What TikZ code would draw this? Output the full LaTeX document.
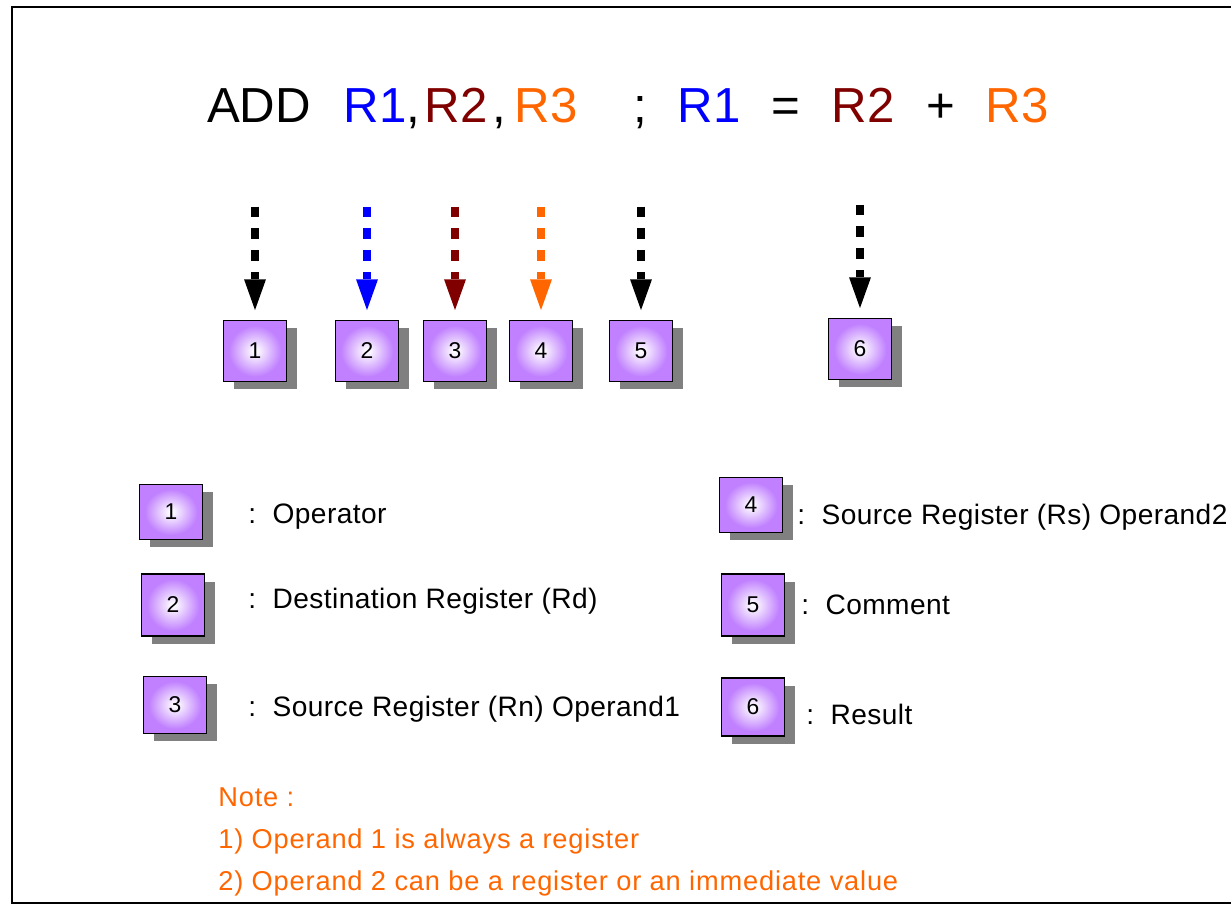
\documentclass[tikz,border=0pt]{standalone}
\usepackage{fontspec}
\setmainfont{Liberation Sans}
\usetikzlibrary{arrows.meta,shadows}

\definecolor{regblue}{RGB}{0,0,255}
\definecolor{regred}{RGB}{128,0,0}
\definecolor{regorange}{RGB}{255,102,0}
\definecolor{boxpurple}{RGB}{192,128,255}
\definecolor{shadowgray}{RGB}{128,128,128}

% white spot in the middle, purple towards the edges
\pgfdeclareradialshading{glow}{\pgfpoint{0bp}{0bp}}{%
  color(0bp)=(white); color(3bp)=(white!90!boxpurple);
  color(21bp)=(boxpurple); color(50bp)=(boxpurple)}

\begin{document}
\begin{tikzpicture}[x=0.02cm, y=-0.02cm,
    num/.style={draw, line width=1.1pt, shade, shading=glow, inner sep=0pt,
                minimum width=1.26cm, minimum height=1.22cm,
                font=\fontsize{13}{15}\selectfont,
                drop shadow={shadow xshift=5.7pt, shadow yshift=-4.5pt,
                             fill=shadowgray, opacity=1}},
    op/.style={anchor=base, inner sep=0pt, font=\fontsize{28}{34}\selectfont},
    desc/.style={anchor=base west, inner sep=0pt,
                 font=\fontsize{16}{19}\selectfont\addfontfeatures{LetterSpace=1.5}},
    note/.style={anchor=base west, inner sep=0pt, text=regorange,
                 font=\fontsize{15.5}{19}\selectfont\addfontfeatures{LetterSpace=3}},
    ptr/.style={line width=4pt, dash pattern=on 6.2pt off 6.2pt,
                -{Triangle[width=12.5pt, length=17.5pt, line width=0pt]},
                shorten >=5.4pt}
]
\useasboundingbox (0,0) rectangle (1231,906);

% frame, open to the right
\draw[line width=1.1pt] (1231,7) -- (12,7) -- (12,903) -- (1231,903);

% the instruction
\node[op] (w1)  at ( 259,122) {ADD};
\node[op, text=regblue] (w2)  at ( 375,122) {R1};
\node[op] (w3)  at ( 413,122) {,};
\node[op, text=regred] (w4)  at ( 456,122) {R2};
\node[op] (w5)  at ( 499,122) {,};
\node[op, text=regorange] (w6)  at ( 546,122) {R3};
\node[op] (w7)  at ( 640,122) {;};
\node[op, text=regblue] (w8)  at ( 709,122) {R1};
\node[op] (w9)  at ( 786,122) {=};
\node[op, text=regred] (w10) at ( 863,122) {R2};
\node[op] (w11) at ( 941,122) {+};
\node[op, text=regorange] (w12) at (1017,122) {R3};

% numbered fields
\node[num] (b1) at (255,351) {1};
\node[num] (b2) at (367,351) {2};
\node[num] (b3) at (455,351) {3};
\node[num] (b4) at (541,351) {4};
\node[num] (b5) at (641,351) {5};
\node[num] (b6) at (860,349) {6};

\foreach \i in {1,...,6}
  \path (b\i.north) ++(0,-113) coordinate (s\i);

\draw[ptr] (s1) -- (b1.north);
\draw[ptr, regblue] (s2) -- (b2.north);
\draw[ptr, regred] (s3) -- (b3.north);
\draw[ptr, regorange] (s4) -- (b4.north);
\draw[ptr] (s5) -- (b5.north);
\draw[ptr] (s6) -- (b6.north);

% legend
\node[num, minimum height=1.1cm]  (k1) at (171,512) {1};
\node[num, minimum height=1.24cm] (k2) at (173,605) {2};
\node[num, minimum height=1.14cm] (k3) at (175,705) {3};
\node[num, minimum height=1.1cm]  (k4) at (751,505) {4};
\node[num, minimum height=1.24cm] (k5) at (753,605) {5};
\node[num, minimum height=1.16cm] (k6) at (753,707) {6};

\node[desc] (d1) at (248,523) {:\ \ Operator};
\node[desc] (d2) at (248,608) {:\ \ Destination Register (Rd)};
\node[desc] (d3) at (248,716) {:\ \ Source Register (Rn) Operand1};
\node[desc] (d4) at (797,524) {:\ \ Source Register (Rs) Operand2};
\node[desc] (d5) at (801,614) {:\ \ Comment};
\node[desc] (d6) at (806,724) {:\ \ Result};

% notes
\node[note] (n0) at (218,806) {Note :};
\node[note] (n1) at (218,848) {1) Operand 1 is always a register};
\node[note] (n2) at (218,890) {2) Operand 2 can be a register or an immediate value};
\end{tikzpicture}
\end{document}
